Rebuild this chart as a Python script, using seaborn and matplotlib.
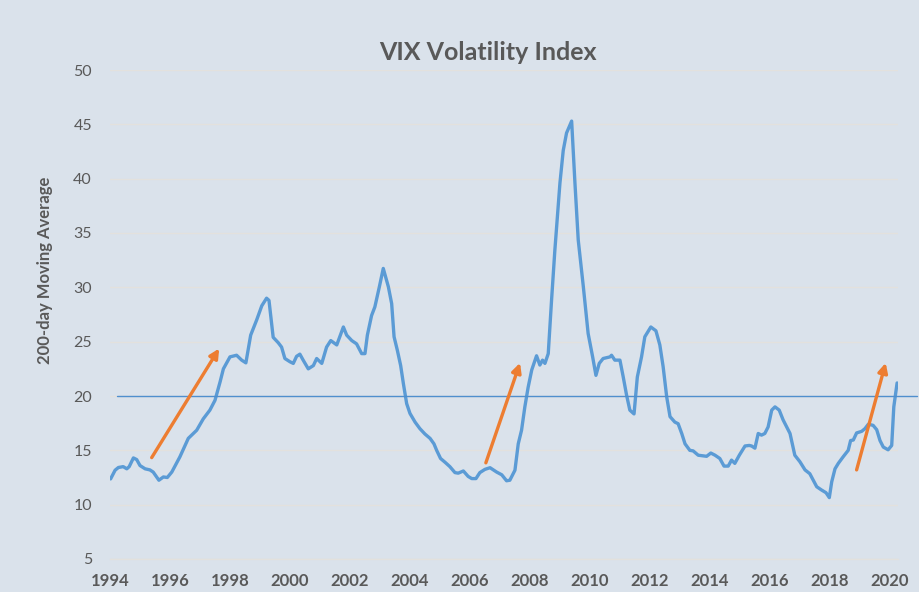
import numpy as np
import pandas as pd
import seaborn as sns
import matplotlib.pyplot as plt

# 200-day moving average of VIX
years = [1994.02, 1994.17, 1994.28, 1994.44, 1994.56, 1994.64, 1994.78, 1994.89, 1995.0, 1995.17,
         1995.33, 1995.44, 1995.63, 1995.78, 1995.91, 1996.06, 1996.33, 1996.61, 1996.89, 1997.11,
         1997.33, 1997.5, 1997.67, 1997.78, 1998.0, 1998.22, 1998.39, 1998.53, 1998.69, 1998.89,
         1999.06, 1999.22, 1999.3, 1999.44, 1999.61, 1999.72, 1999.83, 2000.0, 2000.11, 2000.22,
         2000.33, 2000.44, 2000.61, 2000.78, 2000.89, 2001.06, 2001.22, 2001.36, 2001.56, 2001.78,
         2001.89, 2002.06, 2002.22, 2002.39, 2002.5, 2002.58, 2002.72, 2002.83, 2002.98, 2003.11,
         2003.28, 2003.39, 2003.47, 2003.58, 2003.69, 2003.78, 2003.89, 2004.0, 2004.17, 2004.33,
         2004.5, 2004.67, 2004.8, 2004.89, 2005.02, 2005.17, 2005.33, 2005.5, 2005.61, 2005.78,
         2005.94, 2006.06, 2006.2, 2006.33, 2006.5, 2006.67, 2006.89, 2007.06, 2007.22, 2007.33,
         2007.5, 2007.61, 2007.72, 2007.83, 2007.94, 2008.06, 2008.22, 2008.33, 2008.42, 2008.5,
         2008.61, 2008.72, 2008.83, 2009.0, 2009.11, 2009.22, 2009.39, 2009.5, 2009.61, 2009.78,
         2009.94, 2010.09, 2010.2, 2010.31, 2010.44, 2010.67, 2010.72, 2010.83, 2011.0, 2011.11,
         2011.22, 2011.33, 2011.47, 2011.58, 2011.72, 2011.83, 2012.03, 2012.2, 2012.33, 2012.44,
         2012.56, 2012.67, 2012.83, 2012.94, 2013.06, 2013.17, 2013.33, 2013.44, 2013.61, 2013.89,
         2014.03, 2014.17, 2014.33, 2014.47, 2014.61, 2014.72, 2014.83, 2014.98, 2015.17, 2015.31,
         2015.39, 2015.5, 2015.61, 2015.72, 2015.83, 2015.94, 2016.06, 2016.17, 2016.31, 2016.44,
         2016.67, 2016.83, 2017.0, 2017.17, 2017.33, 2017.56, 2017.72, 2017.87, 2017.98, 2018.06,
         2018.17, 2018.28, 2018.44, 2018.61, 2018.69, 2018.78, 2018.89, 2019.06, 2019.17, 2019.28,
         2019.44, 2019.56, 2019.67, 2019.78, 2019.94, 2020.06, 2020.13, 2020.24]
vix = [12.37, 13.17, 13.42, 13.5, 13.3, 13.5, 14.3, 14.15, 13.6, 13.3,
       13.2, 13.0, 12.25, 12.55, 12.5, 13.0, 14.4, 16.1, 16.85, 17.9,
       18.7, 19.6, 21.3, 22.5, 23.6, 23.75, 23.3, 23.05, 25.6, 27.0,
       28.3, 29.0, 28.8, 25.4, 24.9, 24.5, 23.45, 23.15, 23.0, 23.65,
       23.85, 23.3, 22.5, 22.8, 23.45, 23.0, 24.5, 25.1, 24.7, 26.35,
       25.6, 25.1, 24.8, 23.9, 23.9, 25.6, 27.4, 28.2, 30.05, 31.74,
       30.05, 28.5, 25.45, 24.2, 22.8, 21.15, 19.3, 18.4, 17.6, 17.0,
       16.5, 16.1, 15.6, 15.0, 14.25, 13.9, 13.5, 12.95, 12.9, 13.1,
       12.6, 12.4, 12.4, 12.95, 13.25, 13.4, 13.0, 12.75, 12.2, 12.25,
       13.17, 15.6, 16.85, 19.0, 20.8, 22.4, 23.7, 22.85, 23.3, 23.0,
       23.9, 28.8, 33.4, 39.6, 42.6, 44.2, 45.3, 39.6, 34.35, 30.05,
       25.75, 23.6, 21.9, 23.0, 23.45, 23.6, 23.75, 23.3, 23.3, 21.75,
       20.1, 18.7, 18.35, 21.75, 23.6, 25.45, 26.35, 26.0, 24.7, 22.7,
       19.9, 18.1, 17.6, 17.45, 16.55, 15.6, 15.0, 14.95, 14.55, 14.45,
       14.75, 14.55, 14.25, 13.55, 13.55, 14.1, 13.8, 14.55, 15.4, 15.45,
       15.4, 15.2, 16.55, 16.4, 16.55, 17.15, 18.7, 19.0, 18.7, 17.8,
       16.55, 14.55, 13.95, 13.2, 12.85, 11.65, 11.35, 11.1, 10.65, 12.1,
       13.3, 13.8, 14.4, 15.0, 15.9, 15.95, 16.6, 16.75, 17.0, 17.4,
       17.3, 16.9, 15.9, 15.3, 15.05, 15.45, 19.0, 21.2]

ref_level = 20

# orange arrows (start -> end)
arrow_x0 = [1995.39, 2006.53, 2018.89]
arrow_y0 = [14.33, 13.85, 13.2]
arrow_x1 = [1997.64, 2007.67, 2019.86]
arrow_y1 = [24.37, 23.05, 23.05]

xticks = list(range(1994, 2021, 2))
yticks = list(range(5, 51, 5))

bg = '#dae2eb'
txt = '#595959'
grid_c = '#e3e1dd'

sns.set_style('white', {'axes.facecolor': bg, 'figure.facecolor': bg})
plt.rcParams['font.family'] = ['Lato', 'DejaVu Sans']

data = pd.DataFrame({'year': years, 'vix': vix})

fig = plt.figure(figsize=(9.2, 5.92), dpi=100)
ax = fig.add_axes([110 / 920, 33 / 592, 788 / 920, 489 / 592])

sns.lineplot(data=data, x='year', y='vix', ax=ax, color='#5b9bd5', linewidth=2.4)

# the 20 level line, runs a bit past the plot area like in the original
ax.plot([1994.25, 2020.9], [ref_level, ref_level], color='#4f8fce', lw=1.0, clip_on=False)

for x0, y0, x1, y1 in zip(arrow_x0, arrow_y0, arrow_x1, arrow_y1):
    ax.annotate('', xy=(x1, y1), xytext=(x0, y0),
                arrowprops=dict(arrowstyle='-|>', color='#ed7d31', lw=2.4,
                                mutation_scale=14, shrinkA=0, shrinkB=0))

ax.set_xlim(1994, 2020.27)
ax.set_ylim(5, 50)
ax.set_xticks(xticks)
ax.set_yticks(yticks)
ax.set_xlabel('')
ax.set_ylabel('')

ax.yaxis.grid(True, color=grid_c, lw=1)
ax.set_axisbelow(True)
for s in ['top', 'right', 'left']:
    ax.spines[s].set_visible(False)
ax.spines['bottom'].set_color(grid_c)
ax.spines['bottom'].set_linewidth(1)

ax.tick_params(axis='x', length=5, width=1, color=grid_c, direction='out', pad=5,
               labelsize=12, labelcolor=txt)
ax.tick_params(axis='y', length=0, pad=13, labelsize=11.5, labelcolor=txt)
for lab in ax.get_xticklabels():
    lab.set_fontweight('bold')

fig.text(488 / 920, 1 - 53 / 592, 'VIX Volatility Index', ha='center', va='center',
         fontsize=18, fontweight='bold', color=txt)
fig.text(45 / 920, 1 - 270 / 592, '200-day Moving Average', ha='center', va='center',
         rotation=90, fontsize=12, fontweight='bold', color=txt)

fig.savefig('out.png', dpi=100, facecolor=bg)
